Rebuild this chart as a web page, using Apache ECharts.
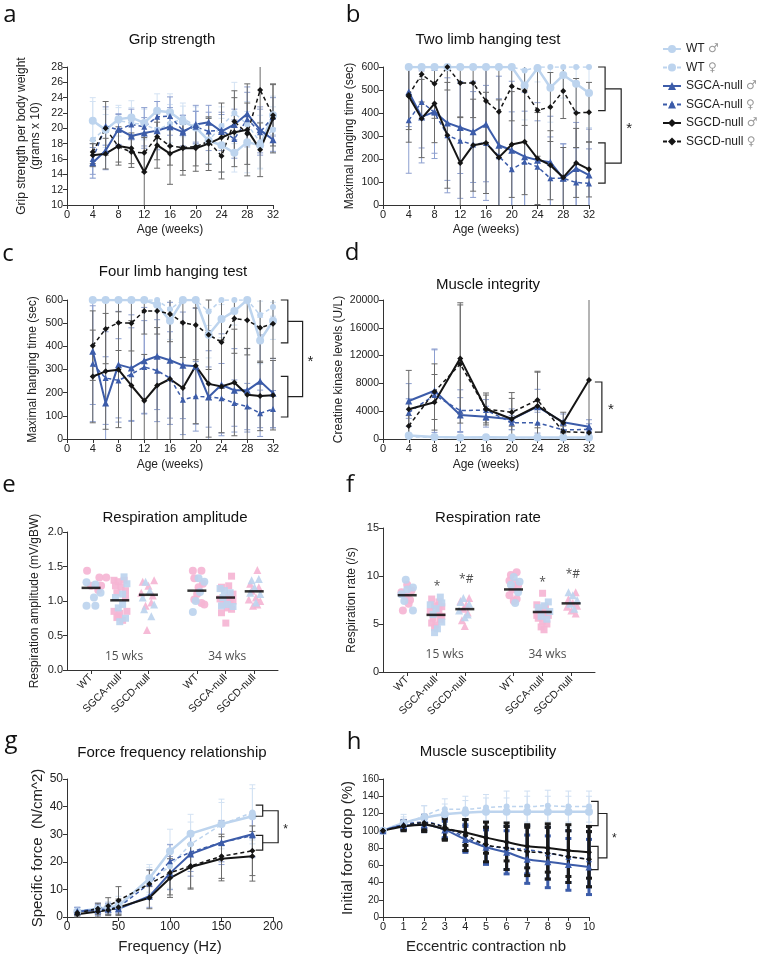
<!DOCTYPE html>
<html>
<head>
<meta charset="utf-8">
<script src="https://cdn.jsdelivr.net/npm/echarts@6/dist/echarts.min.js"></script>
<style>
html, body { margin: 0; padding: 0; background: #fff; }
#chart { width: 760px; height: 959px; }
</style>
</head>
<body>
<div id="chart"></div>
<script>
// groups, in legend order
const groups = ['WT ♂', 'WT ♀', 'SGCA-null ♂', 'SGCA-null ♀', 'SGCD-null ♂', 'SGCD-null ♀'];

// x values
const weeks = [4, 6, 8, 10, 12, 14, 16, 18, 20, 22, 24, 26, 28, 30, 32];
const ckWeeks = [4, 8, 12, 16, 20, 24, 28, 32];
const freqs = [10, 30, 40, 50, 80, 100, 120, 150, 180];
const contractions = [0, 1, 2, 3, 4, 5, 6, 7, 8, 9, 10];

// a - grip strength (mean, +-error)
const gripWTm = [21.0, 19.8, 21.2, 21.4, 20.7, 22.3, 22.1, 20.9, 20.1, 18.4, 17.8, 16.8, 18.2, 17.8, 21.7];
const gripWTf = [18.5, 20.0, 21.0, 20.7, 20.5, 19.8, 20.6, 21.3, 20.3, 18.4, 20.3, 22.0, 20.5, 18.2, 19.8];
const gripSGCAm = [15.5, 17.1, 19.9, 19.0, 19.4, 19.7, 20.2, 19.5, 20.5, 20.8, 19.6, 20.5, 21.9, 19.8, 18.5];
const gripSGCAf = [16.0, 20.3, 19.8, 20.5, 20.2, 21.5, 21.6, 19.7, 20.2, 19.6, 19.8, 18.6, 21.2, 19.5, 21.5];
const gripSGCDm = [16.5, 16.7, 17.7, 17.4, 14.3, 17.8, 16.7, 17.4, 17.4, 18.0, 18.8, 19.5, 19.8, 17.2, 21.3];
const gripSGCDf = [16.9, 20.0, 17.6, 16.9, 16.8, 18.9, 17.7, 17.5, 17.6, 18.3, 16.4, 20.9, 19.3, 25.0, 21.7];
const gripWTmErr = [3.0, 2.0, 1.5, 2.2, 2.0, 2.2, 2.4, 2.0, 2.2, 3.0, 3.5, 2.5, 4.0, 3.0, 2.5];
const gripWTfErr = [5.0, 2.5, 2.0, 2.0, 2.0, 2.5, 2.5, 2.0, 2.5, 3.0, 2.5, 4.0, 3.0, 3.5, 3.0];
const gripSGCAmErr = [2.0, 2.5, 2.0, 2.0, 2.0, 2.5, 2.5, 2.2, 2.5, 2.2, 2.5, 2.0, 3.5, 3.0, 1.5];
const gripSGCAfErr = [2.0, 2.5, 2.0, 2.0, 2.5, 2.0, 2.5, 2.0, 2.0, 2.5, 2.0, 2.5, 3.5, 3.0, 2.5];
const gripSGCDmErr = [1.5, 2.0, 2.5, 2.0, 4.5, 3.0, 4.0, 3.5, 3.0, 3.5, 4.5, 4.5, 6.0, 3.5, 4.5];
const gripSGCDfErr = [1.5, 3.5, 2.0, 2.0, 2.5, 3.0, 2.5, 3.0, 2.5, 3.0, 3.0, 4.0, 4.0, 7.0, 4.0];

// b - two limb hanging (sec)
const twoWTm = [600, 600, 600, 600, 600, 600, 600, 600, 600, 520, 595, 510, 565, 527, 487];
const twoWTf = [600, 600, 600, 600, 600, 600, 600, 600, 600, 585, 600, 600, 600, 600, 600];
const twoSGCAm = [491, 383, 405, 357, 337, 318, 351, 260, 238, 210, 195, 186, 116, 159, 130];
const twoSGCAf = [368, 448, 402, 303, 279, 263, 270, 212, 155, 188, 166, 116, 116, 98, 94];
const twoSGCDm = [473, 376, 441, 303, 183, 260, 270, 207, 263, 275, 202, 173, 120, 183, 155];
const twoSGCDf = [478, 568, 527, 600, 530, 530, 452, 405, 516, 496, 412, 426, 496, 400, 403];
const twoWTmErr = [0, 0, 0, 0, 0, 0, 0, 0, 0, 150, 60, 150, 100, 120, 150];
const twoWTfErr = [0, 0, 0, 0, 0, 0, 0, 0, 0, 60, 0, 0, 0, 0, 0];
const twoSGCAmErr = [150, 200, 180, 250, 200, 220, 250, 300, 300, 280, 250, 200, 150, 200, 200];
const twoSGCAfErr = [230, 200, 200, 250, 250, 230, 250, 250, 250, 220, 200, 180, 150, 150, 150];
const twoSGCDmErr = [200, 170, 170, 230, 200, 200, 220, 250, 230, 230, 200, 150, 130, 150, 120];
const twoSGCDfErr = [150, 120, 150, 100, 150, 150, 180, 200, 150, 150, 200, 150, 120, 150, 130];

// c - four limb hanging (sec)
const fourWTm = [600, 600, 600, 600, 600, 580, 510, 600, 600, 450, 518, 552, 600, 425, 510];
const fourWTf = [600, 600, 600, 600, 600, 600, 560, 600, 600, 550, 600, 600, 600, 535, 570];
const fourSGCAm = [379, 155, 321, 306, 338, 357, 340, 318, 314, 181, 234, 210, 210, 249, 198];
const fourSGCAf = [325, 263, 253, 280, 311, 295, 263, 169, 184, 181, 176, 155, 140, 111, 129];
const fourSGCDm = [270, 292, 299, 231, 165, 231, 259, 220, 316, 238, 227, 244, 191, 186, 189];
const fourSGCDf = [403, 475, 502, 500, 553, 553, 540, 502, 492, 450, 418, 520, 513, 480, 498];
const fourWTmErr = [0, 0, 0, 0, 0, 30, 80, 0, 0, 100, 80, 60, 0, 100, 80];
const fourWTfErr = [0, 0, 0, 0, 0, 20, 60, 0, 0, 60, 20, 0, 0, 60, 40];
const fourSGCAmErr = [230, 200, 230, 230, 230, 230, 250, 230, 250, 200, 220, 180, 180, 200, 150];
const fourSGCAfErr = [250, 200, 180, 200, 200, 220, 200, 150, 150, 130, 150, 100, 100, 100, 80];
const fourSGCDmErr = [200, 250, 250, 280, 200, 250, 300, 280, 250, 230, 200, 230, 200, 150, 150];
const fourSGCDfErr = [150, 150, 120, 120, 100, 100, 120, 150, 150, 150, 200, 150, 150, 150, 150];

// d - creatine kinase (U/L)
const ckWTm = [500, 300, 200, 250, 200, 200, 200, 200];
const ckWTf = [300, 250, 200, 200, 150, 200, 150, 150];
const ckSGCAm = [5470, 6950, 3450, 3210, 2830, 4650, 2400, 1770];
const ckSGCAf = [3790, 6330, 4080, 4170, 2350, 2350, 1300, 1390];
const ckSGCDm = [4270, 5280, 11600, 4320, 2880, 4750, 2350, 8490];
const ckSGCDf = [1870, 6810, 10790, 4320, 3840, 5610, 1060, 910];
const ckWTmErr = [300, 200, 200, 200, 200, 200, 200, 200];
const ckWTfErr = [200, 200, 200, 200, 200, 200, 200, 200];
const ckSGCAmErr = [2500, 6000, 2500, 1500, 1500, 2500, 1200, 1000];
const ckSGCAfErr = [2000, 6500, 3000, 1500, 1000, 1500, 1000, 800];
const ckSGCDmErr = [5600, 4000, 8000, 2300, 3800, 5000, 1500, 12000];
const ckSGCDfErr = [1500, 4000, 8500, 2000, 2000, 4000, 800, 600];

// e / f - individual animals, [x position, value]
const catPos = [1, 2, 3, 4.69, 5.69, 6.69];
const catLabels = ['WT', 'SGCA-null', 'SGCD-null', 'WT', 'SGCA-null', 'SGCD-null'];

const ampWTpink = [[0.86,1.44],[1.29,1.34],[1.53,1.34],[1.0,1.22],[1.25,1.16],[1.35,1.22],[4.55,1.44],[4.85,1.44],[4.6,1.33],[4.9,1.25],[4.75,1.2],[4.6,1.02],[4.85,0.97],[4.95,0.95],[4.7,1.1]];
const ampWTblue = [[0.84,1.27],[1.15,1.24],[1.33,1.12],[0.84,0.93],[1.15,0.93],[1.1,1.05],[4.75,1.33],[4.95,1.28],[4.55,0.84],[4.65,1.0],[4.8,1.13]];
const ampSGCApink = [[1.8,1.3],[1.95,1.28],[2.15,1.3],[1.85,1.22],[2.05,1.2],[1.9,1.12],[2.2,1.15],[1.8,0.85],[2.0,0.82],[2.25,0.85],[1.9,0.76],[2.1,0.72],[1.95,0.78],[2.2,1.05],[5.9,1.36],[5.55,1.2],[5.8,1.22],[5.95,1.1],[5.5,1.03],[5.7,1.0],[5.85,0.98],[5.6,0.95],[5.75,0.9],[5.9,0.88],[5.55,0.83],[5.7,0.68],[5.8,1.05],[5.95,1.0]];
const ampSGCAblue = [[2.15,1.35],[2.25,1.25],[1.85,1.05],[2.1,0.95],[2.0,0.7],[2.2,0.75],[1.95,0.9],[2.1,1.1],[5.5,1.18],[5.65,1.15],[5.85,1.12],[5.6,1.05],[5.75,0.95],[5.95,0.92],[5.55,0.93]];
const ampSGCDpink = [[2.8,1.28],[3.2,1.3],[3.0,1.22],[2.75,1.12],[3.15,1.08],[2.9,0.93],[3.1,0.98],[2.95,0.58],[6.8,1.45],[6.55,1.25],[6.85,1.2],[6.6,1.15],[6.75,1.05],[6.5,1.02],[6.9,1.0],[6.65,0.93],[6.8,0.95]];
const ampSGCDblue = [[2.9,1.28],[3.05,1.15],[2.8,1.05],[3.2,0.95],[3.1,0.78],[2.85,0.88],[6.6,1.3],[6.85,1.32],[6.7,1.2],[6.55,1.12],[6.9,1.1],[6.75,0.98]];
const ampMeans = [1.19, 1.01, 1.09, 1.15, 1.05, 1.14];
const ampNotes = [['15 wks', 2.15, 0.19], ['34 wks', 5.75, 0.19]];

const rateWTpink = [[1.0,9.1],[0.8,8.3],[1.15,8.5],[0.95,7.9],[1.1,7.5],[0.85,6.4],[1.05,7.1],[4.6,10.1],[4.8,10.4],[4.55,9.5],[4.75,9.3],[4.85,9.0],[4.65,8.6],[4.55,8.0],[4.8,7.6],[4.7,7.4]];
const rateWTblue = [[0.95,9.6],[1.2,8.8],[1.0,8.6],[0.8,8.1],[1.2,6.4],[0.9,7.4],[4.7,9.9],[4.9,9.4],[4.6,9.1],[4.85,8.3],[4.75,7.2]];
const rateSGCApink = [[1.85,7.6],[2.1,7.3],[1.95,6.9],[2.2,6.8],[1.8,6.3],[2.05,6.1],[1.9,5.6],[2.15,5.5],[1.85,5.1],[2.0,4.9],[2.2,5.8],[1.95,4.6],[2.1,6.5],[5.7,8.2],[5.5,7.0],[5.8,6.8],[5.6,6.4],[5.75,6.1],[5.9,5.9],[5.55,5.6],[5.7,5.3],[5.85,5.0],[5.65,4.7],[5.75,4.4],[5.5,5.9]];
const rateSGCAblue = [[2.15,7.8],[2.2,7.2],[1.8,7.0],[2.0,6.6],[1.9,6.0],[2.2,5.2],[2.05,4.5],[1.95,4.1],[5.9,7.3],[5.75,6.9],[5.55,6.7],[5.95,6.3],[5.65,5.8],[5.85,5.5]];
const rateSGCDpink = [[3.15,7.7],[2.85,7.4],[3.05,7.0],[2.95,6.6],[3.1,6.2],[2.9,5.4],[3.0,4.8],[6.85,8.3],[6.6,7.6],[6.75,7.2],[6.9,6.9],[6.55,6.8],[6.7,6.4],[6.85,6.1]];
const rateSGCDblue = [[2.95,7.7],[2.85,7.3],[3.15,7.1],[2.8,6.4],[3.1,6.0],[3.0,5.7],[6.6,8.3],[6.75,8.0],[6.9,7.5],[6.65,7.1],[6.8,6.6]];
const rateMeans = [8.0, 5.95, 6.55, 8.6, 6.25, 7.15];
const rateNotes = [['15 wks', 2.3, 1.8], ['34 wks', 5.87, 1.8], ['*', 2.04, 8.85], ['*#', 3.05, 9.6], ['*', 5.7, 9.3], ['*#', 6.75, 10.1]];

// g - specific force (N/cm^2)
const forceWTm = [2.0, 3.0, 3.5, 4.0, 14.0, 23.8, 30.2, 33.7, 36.5];
const forceWTf = [2.0, 2.5, 3.0, 4.5, 13.0, 18.4, 26.4, 33.5, 37.9];
const forceSGCAm = [2.0, 2.5, 2.8, 3.0, 7.5, 15.9, 22.8, 27.0, 30.0];
const forceSGCAf = [2.0, 3.0, 3.0, 3.5, 12.1, 20.2, 23.5, 27.0, 29.5];
const forceSGCDm = [1.0, 2.0, 2.5, 3.5, 7.0, 14.1, 18.1, 21.1, 22.0];
const forceSGCDf = [1.5, 3.0, 4.0, 6.0, 12.0, 16.0, 18.5, 22.0, 24.0];
const forceWTmErr = [1.5, 1.5, 2, 2, 5, 8, 7, 9, 10];
const forceWTfErr = [1.5, 1.5, 2, 3, 5, 8, 8, 8, 10];
const forceSGCAmErr = [1.5, 2, 2, 2, 4, 6, 8, 8, 8];
const forceSGCAfErr = [1.5, 2, 2, 2, 5, 6, 7, 7, 8];
const forceSGCDmErr = [1, 2, 2, 3, 4, 7, 8, 8, 9];
const forceSGCDfErr = [1, 2, 3, 5, 5, 8, 8, 8, 9];

// h - initial force drop (%)
const dropWTm = [100, 109, 115, 119, 121, 122, 122, 122, 122, 122, 122];
const dropWTf = [100, 108, 117, 125, 125, 127, 128, 128, 129, 128, 128];
const dropSGCAm = [100, 106, 107, 101, 90, 81, 75, 67, 64, 61, 58];
const dropSGCAf = [100, 107, 110, 104, 92, 83, 80, 78, 74, 70, 67];
const dropSGCDm = [100, 105, 107, 102, 98, 92, 87, 82, 80, 77, 75];
const dropSGCDf = [100, 106, 109, 104, 95, 84, 80, 76, 74, 70, 67];
const dropWTmErr = [0, 10, 14, 12, 14, 16, 16, 18, 18, 18, 18];
const dropWTfErr = [0, 8, 12, 12, 15, 15, 18, 18, 18, 18, 18];
const dropSGCAmErr = [0, 5, 8, 10, 15, 20, 25, 28, 30, 30, 32];
const dropSGCAfErr = [0, 5, 8, 12, 15, 20, 25, 28, 30, 30, 32];
const dropSGCDmErr = [0, 5, 8, 12, 15, 18, 22, 25, 28, 30, 30];
const dropSGCDfErr = [0, 5, 8, 15, 18, 20, 25, 28, 30, 30, 32];

const FONT = '"Liberation Sans", Arial, sans-serif';
const LIGHT = '#bdd4ee', BLUE = '#3c5ca9', BLACK = '#151515', PINK = '#f5b5d4';

// how each group is drawn
const look = [
    { color: LIGHT, err: '#d3e2f3', dash: 'solid', width: 2.5, symbol: 'circle', size: 8 },
    { color: LIGHT, err: '#d3e2f3', dash: [4, 3], width: 1.5, symbol: 'circle', size: 6 },
    { color: BLUE, err: '#8d9fcf', dash: 'solid', width: 2, symbol: 'triangle', size: 7 },
    { color: BLUE, err: '#8d9fcf', dash: [4, 3], width: 1.5, symbol: 'triangle', size: 6 },
    { color: BLACK, err: '#6a6a6a', dash: 'solid', width: 2, symbol: 'diamond', size: 6 },
    { color: BLACK, err: '#6a6a6a', dash: [4, 3], width: 1.5, symbol: 'diamond', size: 6 }
];

const grids = [
    { left: 67, top: 67, width: 206, height: 138 },
    { left: 383, top: 67, width: 206, height: 138 },
    { left: 67, top: 300, width: 206, height: 139 },
    { left: 383, top: 300, width: 206, height: 139 },
    { left: 67, top: 532, width: 211, height: 138 },
    { left: 383, top: 528, width: 212, height: 144 },
    { left: 67, top: 779, width: 206, height: 138 },
    { left: 383, top: 779, width: 206, height: 138 }
];

function axisStyle(fs) {
    return {
        axisLine: { show: true, onZero: false, lineStyle: { color: '#333', width: 1 } },
        axisTick: { show: true, length: 4, lineStyle: { color: '#333' } },
        axisLabel: { fontSize: fs, color: '#222', fontFamily: FONT, margin: 4, formatter: v => String(v) },
        splitLine: { show: false },
        nameLocation: 'middle',
        nameTextStyle: { fontSize: 12, color: '#222', fontFamily: FONT }
    };
}
function xAx(i, min, max, interval, name, gap, fs, nfs) {
    const a = axisStyle(fs);
    a.nameTextStyle.fontSize = nfs || 12;
    return Object.assign(a, { type: 'value', gridIndex: i, min, max, interval, name, nameGap: gap });
}
function yAx(i, min, max, interval, name, gap, fs, nfs) {
    const a = axisStyle(fs);
    a.nameTextStyle.fontSize = nfs || 12;
    a.nameTextStyle.lineHeight = 14;
    return Object.assign(a, { type: 'value', gridIndex: i, min, max, interval, name, nameGap: gap });
}

function catAxis(i) {
    const a = xAx(i, 0.16, 7.52, 1, '', 0, 10.5);
    a.axisTick.customValues = catPos;
    a.axisLabel.customValues = catPos;
    a.axisLabel.rotate = 45;
    a.axisLabel.margin = 6;
    a.axisLabel.formatter = v => catLabels[catPos.findIndex(p => Math.abs(p - v) < 1e-6)] || '';
    return a;
}

const xAxis = [
    xAx(0, 0, 32, 4, 'Age (weeks)', 19, 11),
    xAx(1, 0, 32, 4, 'Age (weeks)', 19, 11),
    xAx(2, 0, 32, 4, 'Age (weeks)', 20, 11),
    xAx(3, 0, 32, 4, 'Age (weeks)', 20, 11),
    catAxis(4),
    catAxis(5),
    xAx(6, 0, 200, 50, 'Frequency (Hz)', 22, 12, 15),
    xAx(7, 0, 10, 1, 'Eccentric contraction nb', 22, 11, 15)
];
const yAxis = [
    yAx(0, 10, 28, 2, 'Grip strength per body weight\n(grams x 10)', 24, 10.5),
    yAx(1, 0, 600, 100, 'Maximal hanging time (sec)', 26, 10.5),
    yAx(2, 0, 600, 100, 'Maximal hanging time (sec)', 27, 10.5),
    yAx(3, 0, 20000, 4000, 'Creatine kinase levels (U/L)', 36, 10.5),
    yAx(4, 0, 2, 0.5, 'Respiration amplitude (mV/gBW)', 25, 11),
    yAx(5, 0, 15, 5, 'Respiration rate (/s)', 24, 11),
    yAx(6, 0, 50, 10, 'Specific force  (N/cm^2)', 19, 12, 15),
    yAx(7, 0, 160, 20, 'Initial force drop (%)', 28, 10, 15)
];
yAxis[4].axisLabel.formatter = v => v.toFixed(1);

const series = [];

function errSeries(idx, xs, ys, es, color, w) {
    return {
        type: 'custom', xAxisIndex: idx, yAxisIndex: idx, silent: true, z: 1, animation: false,
        data: xs.map((x, i) => [x, ys[i], es[i]]),
        renderItem(params, api) {
            const cs = params.coordSys;
            const x = api.value(0), y = api.value(1), e = api.value(2);
            if (!e) return;
            const top = api.coord([x, y + e]), bot = api.coord([x, y - e]);
            const t = Math.max(top[1], cs.y), b = Math.min(bot[1], cs.y + cs.height);
            const px = top[0], c = 3;
            const st = { stroke: color, lineWidth: w };
            const kids = [{ type: 'line', shape: { x1: px, y1: t, x2: px, y2: b }, style: st }];
            if (top[1] >= cs.y) kids.push({ type: 'line', shape: { x1: px - c, y1: t, x2: px + c, y2: t }, style: st });
            if (bot[1] <= cs.y + cs.height) kids.push({ type: 'line', shape: { x1: px - c, y1: b, x2: px + c, y2: b }, style: st });
            return { type: 'group', children: kids };
        }
    };
}

function addLines(idx, xs, means, errs, opt) {
    opt = opt || {};
    means.forEach((ys, g) => {
        const w = opt.errWidth ? opt.errWidth[g] : 1;
        const c = opt.errColor ? opt.errColor[g] : look[g].err;
        series.push(errSeries(idx, xs, ys, errs[g], c, w));
    });
    means.forEach((ys, g) => {
        const L = look[g];
        series.push({
            type: 'line', name: groups[g], xAxisIndex: idx, yAxisIndex: idx,
            data: xs.map((x, i) => [x, ys[i]]),
            symbol: L.symbol, symbolSize: L.size, smooth: opt.smooth || false,
            lineStyle: { color: L.color, width: L.width, type: L.dash },
            itemStyle: { color: L.color }, z: 3, animation: false
        });
    });
}

function bracketSeries(idx, smallX, ranges, mainX, fs) {
    return {
        type: 'custom', xAxisIndex: idx, yAxisIndex: idx, silent: true, clip: false, z: 5, animation: false,
        data: [[smallX, ranges[0][0]]],
        renderItem(params, api) {
            const st = { stroke: '#222', lineWidth: 1.2, fill: null };
            const kids = [], mids = [];
            ranges.forEach(r => {
                const a = api.coord([smallX, r[1]]), b = api.coord([smallX, r[0]]);
                kids.push({ type: 'polyline', shape: { points: [[a[0] - 7, a[1]], [a[0], a[1]], [b[0], b[1]], [b[0] - 7, b[1]]] }, style: st });
                mids.push([a[0], (a[1] + b[1]) / 2]);
            });
            let sx, sy;
            if (mids.length === 2) {
                const m = api.coord([mainX, ranges[0][0]])[0];
                kids.push({ type: 'polyline', shape: { points: [mids[0], [m, mids[0][1]], [m, mids[1][1]], mids[1]] }, style: st });
                sx = m + 5; sy = (mids[0][1] + mids[1][1]) / 2;
            } else {
                sx = mids[0][0] + 6; sy = mids[0][1];
            }
            kids.push({ type: 'text', style: { text: '*', x: sx, y: sy + 3, fontSize: fs, fontFamily: FONT, fill: '#222', align: 'left', verticalAlign: 'middle', textAlign: 'left', textVerticalAlign: 'middle' } });
            return { type: 'group', children: kids };
        }
    };
}

// line panels
addLines(0, weeks, [gripWTm, gripWTf, gripSGCAm, gripSGCAf, gripSGCDm, gripSGCDf],
    [gripWTmErr, gripWTfErr, gripSGCAmErr, gripSGCAfErr, gripSGCDmErr, gripSGCDfErr]);
addLines(1, weeks, [twoWTm, twoWTf, twoSGCAm, twoSGCAf, twoSGCDm, twoSGCDf],
    [twoWTmErr, twoWTfErr, twoSGCAmErr, twoSGCAfErr, twoSGCDmErr, twoSGCDfErr]);
addLines(2, weeks, [fourWTm, fourWTf, fourSGCAm, fourSGCAf, fourSGCDm, fourSGCDf],
    [fourWTmErr, fourWTfErr, fourSGCAmErr, fourSGCAfErr, fourSGCDmErr, fourSGCDfErr]);
addLines(3, ckWeeks, [ckWTm, ckWTf, ckSGCAm, ckSGCAf, ckSGCDm, ckSGCDf],
    [ckWTmErr, ckWTfErr, ckSGCAmErr, ckSGCAfErr, ckSGCDmErr, ckSGCDfErr]);
addLines(6, freqs, [forceWTm, forceWTf, forceSGCAm, forceSGCAf, forceSGCDm, forceSGCDf],
    [forceWTmErr, forceWTfErr, forceSGCAmErr, forceSGCAfErr, forceSGCDmErr, forceSGCDfErr]);
addLines(7, contractions, [dropWTm, dropWTf, dropSGCAm, dropSGCAf, dropSGCDm, dropSGCDf],
    [dropWTmErr, dropWTfErr, dropSGCAmErr, dropSGCAfErr, dropSGCDmErr, dropSGCDfErr],
    { smooth: 0.4, errWidth: [1, 1, 3, 3, 3, 3], errColor: ['#cfdff2', '#cfdff2', BLUE, BLUE, '#1a1a1a', '#1a1a1a'] });

series.push(bracketSeries(1, 34.5, [[410, 600], [95, 270]], 37, 15));
series.push(bracketSeries(2, 34.3, [[415, 600], [95, 270]], 36.6, 15));
series.push(bracketSeries(3, 34, [[1000, 8200]], 0, 15));
series.push(bracketSeries(6, 190, [[36.5, 40.5], [24.2, 29.6]], 205, 12));
series.push(bracketSeries(7, 10.44, [[106, 134], [55, 82]], 10.87, 12));

// dot panels
function dots(idx, data, color, symbol, size) {
    series.push({
        type: 'scatter', xAxisIndex: idx, yAxisIndex: idx, data, symbol, symbolSize: size,
        itemStyle: { color, opacity: 0.92 }, z: 2, silent: true, animation: false
    });
}
function means(idx, vals) {
    series.push({
        type: 'scatter', xAxisIndex: idx, yAxisIndex: idx, data: catPos.map((x, i) => [x, vals[i]]),
        symbol: 'rect', symbolSize: [19, 2.5], itemStyle: { color: '#000' }, z: 4, silent: true, animation: false
    });
}
function notes(idx, list) {
    series.push({
        type: 'scatter', xAxisIndex: idx, yAxisIndex: idx, symbolSize: 0, silent: true, animation: false, z: 5,
        data: list.map(n => ({ name: n[0], value: [n[1], n[2]] })),
        label: { show: true, position: 'inside', formatter: p => p.name, fontSize: 12, color: '#222', fontFamily: '"Open Sans", sans-serif' }
    });
}
[[4, ampWTpink, ampWTblue, ampSGCApink, ampSGCAblue, ampSGCDpink, ampSGCDblue, ampMeans, ampNotes],
 [5, rateWTpink, rateWTblue, rateSGCApink, rateSGCAblue, rateSGCDpink, rateSGCDblue, rateMeans, rateNotes]]
    .forEach(p => {
        dots(p[0], p[1], PINK, 'circle', 8);
        dots(p[0], p[2], LIGHT, 'circle', 8);
        dots(p[0], p[3], PINK, 'rect', 7);
        dots(p[0], p[4], LIGHT, 'rect', 7);
        dots(p[0], p[5], PINK, 'triangle', 8);
        dots(p[0], p[6], LIGHT, 'triangle', 8);
        means(p[0], p[7]);
        notes(p[0], p[8]);
    });

// panel titles and letters
const titles = [
    ['Grip strength', 172, 40], ['Two limb hanging test', 488, 40],
    ['Four limb hanging test', 173, 272], ['Muscle integrity', 488, 285],
    ['Respiration amplitude', 175, 518], ['Respiration rate', 488, 518],
    ['Force frequency relationship', 172, 753], ['Muscle susceptibility', 488, 752]
];
const letters = [['a', 10, 15], ['b', 353, 15], ['c', 8, 254], ['d', 352, 253],
    ['e', 9, 485], ['f', 350, 485], ['g', 11, 741], ['h', 354, 742]];

const graphic = [];
titles.forEach(t => graphic.push({
    type: 'text', x: t[1], y: t[2], silent: true,
    style: { text: t[0], fontSize: 15, fontFamily: FONT, fill: '#111', align: 'center', verticalAlign: 'middle', textAlign: 'center', textVerticalAlign: 'middle' }
}));
letters.forEach(t => graphic.push({
    type: 'text', x: t[1], y: t[2], silent: true,
    style: { text: t[0], fontSize: 24, fontFamily: '"Open Sans", sans-serif', fill: '#111', align: 'center', verticalAlign: 'middle', textAlign: 'center', textVerticalAlign: 'middle' }
}));

const chart = echarts.init(document.getElementById('chart'));
chart.setOption({
    animation: false,
    backgroundColor: '#fff',
    textStyle: { fontFamily: FONT },
    grid: grids,
    xAxis,
    yAxis,
    legend: {
        data: groups, orient: 'vertical', left: 662, top: 43, padding: 0,
        itemWidth: 18, itemHeight: 10, itemGap: 6.5, selectedMode: false,
        formatter: n => { const i = n.lastIndexOf(' '); return n.slice(0, i) + ' {s|' + n.slice(i + 1) + '}'; },
        textStyle: {
            fontSize: 12, color: '#222', fontFamily: FONT,
            rich: { s: { fontSize: 12, color: '#999', fontFamily: '"DejaVu Sans", sans-serif' } }
        }
    },
    graphic,
    series
});
</script>
</body>
</html>
